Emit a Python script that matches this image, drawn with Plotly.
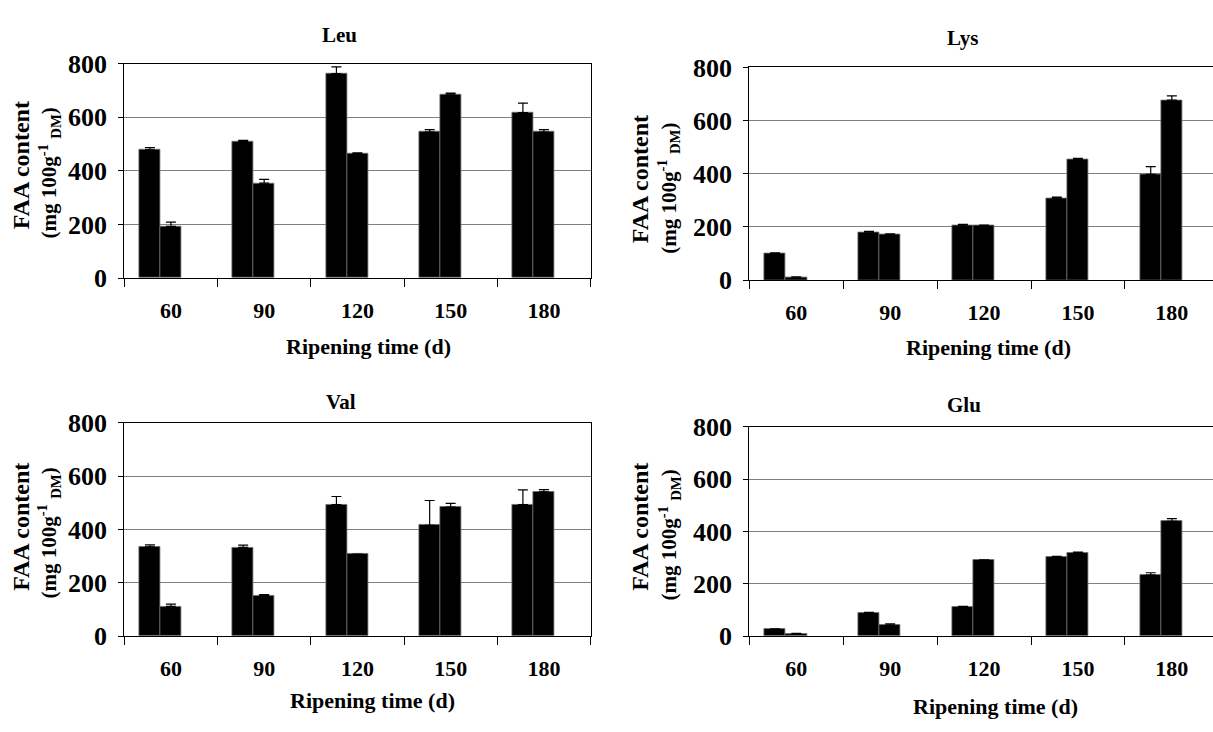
import plotly.graph_objects as go

W, H = 1213, 732

categories = ["60", "90", "120", "150", "180"]

leu_s1 = [478, 510, 763, 545, 617]
leu_s1_err = [9, 4, 25, 9, 36]
leu_s2 = [193, 354, 463, 686, 545]
leu_s2_err = [16, 14, 4, 4, 9]

lys_s1 = [100, 180, 207, 308, 398]
lys_s1_err = [2, 3, 3, 4, 29]
lys_s2 = [11, 171, 205, 453, 677]
lys_s2_err = [1, 3, 2, 5, 16]

val_s1 = [335, 333, 494, 416, 494]
val_s1_err = [8, 9, 30, 93, 55]
val_s2 = [112, 153, 308, 484, 541]
val_s2_err = [9, 3, 0, 14, 9]

glu_s1 = [27, 91, 113, 302, 234]
glu_s1_err = [2, 1, 2, 4, 9]
glu_s2 = [10, 43, 291, 318, 439]
glu_s2_err = [1, 5, 1, 4, 11]

y_ticks = [0, 200, 400, 600, 800]

panels = [
    dict(name="Leu", s1=leu_s1, e1=leu_s1_err, s2=leu_s2, e2=leu_s2_err,
         px=(124.3, 590.5), py=(51.7, 275.0), xr=[-0.5, 4.5], right=True,
         title=(339.5, 21.7), xt=(368.5, 346), yt1=(21, 157.5), yt2=(49, 166)),
    dict(name="Lys", s1=lys_s1, e1=lys_s1_err, s2=lys_s2, e2=lys_s2_err,
         px=(749.3, 1213.0), py=(55.7, 277.0), xr=[-0.5, -0.5 + 463.7 / 93.9], right=False,
         title=(962.5, 25), xt=(988.5, 347), yt1=(640, 172), yt2=(669, 182)),
    dict(name="Val", s1=val_s1, e1=val_s1_err, s2=val_s2, e2=val_s2_err,
         px=(124.3, 590.5), py=(425.7, 648.0), xr=[-0.5, 4.5], right=True,
         title=(341, 404), xt=(372.5, 715), yt1=(21, 534), yt2=(49, 541)),
    dict(name="Glu", s1=glu_s1, e1=glu_s1_err, s2=glu_s2, e2=glu_s2_err,
         px=(749.3, 1213.0), py=(430.0, 648.0), xr=[-0.5, -0.5 + 463.7 / 93.9], right=False,
         title=(964, 407), xt=(995.5, 721), yt1=(640, 534), yt2=(669, 543)),
]

FONT = "Liberation Serif"
BW = 0.225

fig = go.Figure()
annotations = []


def pxx(x):
    return x / W


def pxy(y):
    return 1 - y / H


for i, p in enumerate(panels):
    n = "" if i == 0 else str(i + 1)
    xa, ya = "x" + n, "y" + n
    for vals, errs, off in ((p["s1"], p["e1"], -1.5 * BW), (p["s2"], p["e2"], -0.5 * BW)):
        fig.add_trace(go.Bar(
            x=categories, y=vals, xaxis=xa, yaxis=ya,
            width=BW, offset=off,
            marker=dict(color="black", line=dict(color="#6e6e6e", width=0.8)),
            error_y=dict(type="data", symmetric=False, array=errs,
                         arrayminus=[0] * len(errs), color="black",
                         thickness=1.2, width=5),
            showlegend=False,
        ))
    fig.layout["xaxis" + n] = dict(
        domain=[pxx(p["px"][0]), pxx(p["px"][1])], anchor=ya,
        type="category", range=p["xr"], showgrid=False, zeroline=False,
        showline=True, linecolor="black", linewidth=1.3, mirror=True,
        ticks="outside", tickson="boundaries", ticklen=8, tickwidth=1.2,
        tickcolor="black", ticklabelstandoff=12,
        tickfont=dict(family=FONT, size=22, color="black", weight="bold"),
    )
    fig.layout["yaxis" + n] = dict(
        domain=[pxy(p["py"][1]), pxy(p["py"][0])], anchor=xa,
        range=[0, 800], tickvals=y_ticks, showgrid=True,
        gridcolor="#808080", gridwidth=1, zeroline=False,
        showline=True, linecolor="black", linewidth=1.3,
        mirror=p["right"],
        ticks="outside", ticklen=5, tickwidth=1.2, tickcolor="black",
        ticklabelstandoff=6,
        tickfont=dict(family=FONT, size=26, color="black", weight="bold"),
    )
    annotations.append(dict(text="<b>%s</b>" % p["name"], x=pxx(p["title"][0]), y=pxy(p["title"][1]),
                            xref="paper", yref="paper", showarrow=False,
                            xanchor="center", yanchor="middle",
                            font=dict(family=FONT, size=21, color="black")))
    annotations.append(dict(text="<b>Ripening time (d)</b>", x=pxx(p["xt"][0]), y=pxy(p["xt"][1]),
                            xref="paper", yref="paper", showarrow=False,
                            xanchor="center", yanchor="middle",
                            font=dict(family=FONT, size=22, color="black")))
    annotations.append(dict(text="<b>FAA content</b>", x=pxx(p["yt1"][0]), y=pxy(p["yt1"][1]),
                            xref="paper", yref="paper", showarrow=False, textangle=-90,
                            xanchor="center", yanchor="middle",
                            font=dict(family=FONT, size=24, color="black")))
    annotations.append(dict(text="<b>(mg 100g<sup>-1</sup> <sub>DM</sub>)</b>",
                            x=pxx(p["yt2"][0]), y=pxy(p["yt2"][1]),
                            xref="paper", yref="paper", showarrow=False, textangle=-90,
                            xanchor="center", yanchor="middle",
                            font=dict(family=FONT, size=21, color="black")))

fig.update_layout(
    width=W, height=H, autosize=False,
    margin=dict(l=0, r=0, t=0, b=0),
    paper_bgcolor="white", plot_bgcolor="white",
    barmode="overlay", bargap=0,
    annotations=annotations,
    showlegend=False,
)

fig.write_html("out.html", config={"displayModeBar": False},
               post_script="document.body.style.margin='0';document.body.style.overflow='hidden';")
